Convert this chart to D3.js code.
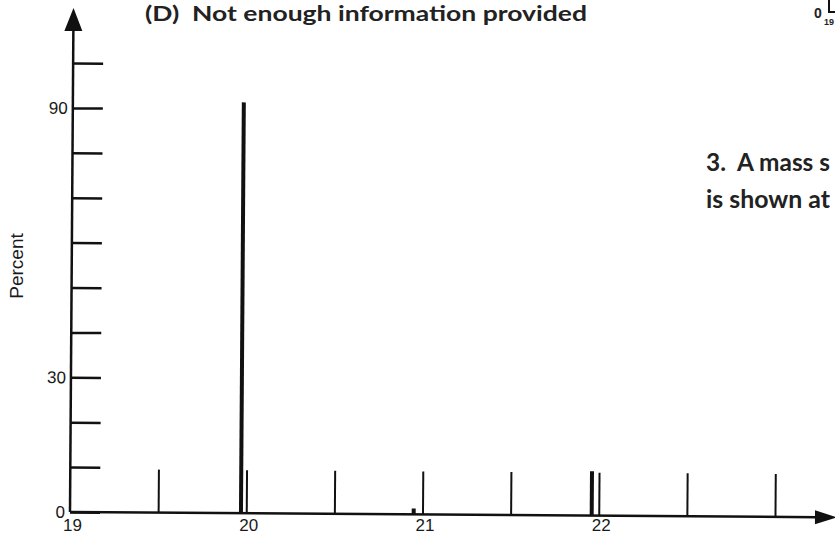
<!DOCTYPE html>
<html>
<head>
<meta charset="utf-8">
<script src="https://cdn.jsdelivr.net/npm/d3@7"></script>
<style>
body { margin: 0; background: #fff; }
svg { display: block; }
.axis text { font-family: "Liberation Sans", Arial, sans-serif; font-size: 17px; fill: #1a1a1a; }
.page { font-family: Lato, "Open Sans", sans-serif; font-weight: 700; fill: #222; white-space: pre; }
</style>
</head>
<body>
<div id="chart"></div>
<script>
// Mass spectrum (neon isotopes)
var masses = [19.97, 20.95, 21.96];
var percents = [91.5, 1.3, 9.9];

// axis ticks / labels
var xTickValues = [19.5, 20, 20.5, 21, 21.5, 22, 22.5, 23];
var xLabelValues = [19, 20, 21, 22];
var yTickValues = [0, 10, 20, 30, 40, 50, 60, 70, 80, 90, 100];
var yLabelValues = [0, 30, 90];
var yTitle = "Percent";

var width = 835;
var height = 538;
var ink = "#111";

var svg = d3.select("#chart")
    .append("svg")
    .attr("width", width)
    .attr("height", height);

var x = d3.scaleLinear().domain([19, 23]).range([70, 775]);
var y = d3.scaleLinear().domain([0, 100]).range([512, 63]);

// the scan is a little crooked, so tilt the plot slightly
var chart = svg.append("g")
    .attr("transform", "rotate(0.4, " + x(19) + ", " + y(0) + ")");

// Left (y) axis - ticks point inward
var yAxis = d3.axisLeft(y)
    .tickValues(yTickValues)
    .tickSize(-30)
    .tickPadding(5)
    .tickFormat(function(d) {
        return yLabelValues.indexOf(d) >= 0 ? d : "";
    });

var yG = chart.append("g")
    .attr("class", "y axis")
    .attr("transform", "translate(" + x(19) + ",0)")
    .call(yAxis);
yG.select(".domain").remove();
yG.selectAll(".tick line").attr("stroke", ink).attr("stroke-width", 2.5);

// Bottom (x) axis - half unit ticks pointing up
var xTicks = d3.axisBottom(x)
    .tickValues(xTickValues)
    .tickSize(-43)
    .tickFormat("");

var xG = chart.append("g")
    .attr("class", "x axis")
    .attr("transform", "translate(0," + y(0) + ")")
    .call(xTicks);
xG.select(".domain").remove();
xG.selectAll(".tick line").attr("stroke", ink).attr("stroke-width", 2);

// whole number labels (kept level so they stay inside the page)
var xLabels = d3.axisBottom(x)
    .tickValues(xLabelValues)
    .tickSize(0)
    .tickPadding(7)
    .tickFormat(d3.format("d"));

var xL = svg.append("g")
    .attr("class", "x axis")
    .attr("transform", "translate(0," + y(0) + ")")
    .call(xLabels);
xL.select(".domain").remove();
xL.selectAll("text").attr("dx", "0.12em");

// axis lines with arrow heads
chart.append("line")
    .attr("x1", x(19)).attr("y1", y(0))
    .attr("x2", x(19)).attr("y2", 28)
    .attr("stroke", ink).attr("stroke-width", 2.5);
chart.append("path")
    .attr("d", "M" + x(19) + ",8 L" + (x(19) + 9) + ",31 L" + (x(19) - 9) + ",31 Z")
    .attr("fill", ink);

chart.append("line")
    .attr("x1", x(19)).attr("y1", y(0))
    .attr("x2", 818).attr("y2", y(0))
    .attr("stroke", ink).attr("stroke-width", 2.5);
chart.append("path")
    .attr("d", "M837," + y(0) + " L815," + (y(0) - 7) + " L815," + (y(0) + 7) + " Z")
    .attr("fill", ink);

// peaks
chart.selectAll("line.peak")
    .data(masses)
    .enter()
    .append("line")
    .attr("class", "peak")
    .attr("x1", function(d) { return x(d); })
    .attr("x2", function(d) { return x(d); })
    .attr("y1", y(0))
    .attr("y2", function(d, i) { return y(percents[i]); })
    .attr("stroke", ink)
    .attr("stroke-width", 4);

// y title
svg.append("text")
    .attr("transform", "translate(23,266) rotate(-90)")
    .attr("text-anchor", "middle")
    .style("font-family", "'Liberation Sans', Arial, sans-serif")
    .style("font-size", "19px")
    .style("fill", "#1a1a1a")
    .text(yTitle);

// surrounding worksheet text
svg.append("text")
    .attr("class", "page")
    .attr("x", 145).attr("y", 21)
    .attr("textLength", 442)
    .attr("lengthAdjust", "spacingAndGlyphs")
    .style("font-size", "21px")
    .text("(D)  Not enough information provided");

svg.append("text")
    .attr("class", "page")
    .attr("x", 706).attr("y", 171)
    .attr("textLength", 124)
    .attr("lengthAdjust", "spacingAndGlyphs")
    .style("font-size", "24px")
    .text("3.  A mass s");

svg.append("text")
    .attr("class", "page")
    .attr("x", 706).attr("y", 208)
    .attr("textLength", 124)
    .attr("lengthAdjust", "spacingAndGlyphs")
    .style("font-size", "24px")
    .text("is shown at");

// corner of the next figure peeking in at the top right
svg.append("text")
    .attr("class", "page")
    .attr("x", 818).attr("y", 18)
    .attr("text-anchor", "middle")
    .style("font-family", "'Liberation Sans', Arial, sans-serif")
    .style("font-size", "14px")
    .text("0");
svg.append("path")
    .attr("d", "M829,0 V12 H836")
    .attr("fill", "none")
    .attr("stroke", ink)
    .attr("stroke-width", 2);
svg.append("text")
    .attr("class", "page")
    .attr("x", 824).attr("y", 25)
    .style("font-family", "'Liberation Sans', Arial, sans-serif")
    .style("font-size", "9px")
    .text("19");
</script>
</body>
</html>
